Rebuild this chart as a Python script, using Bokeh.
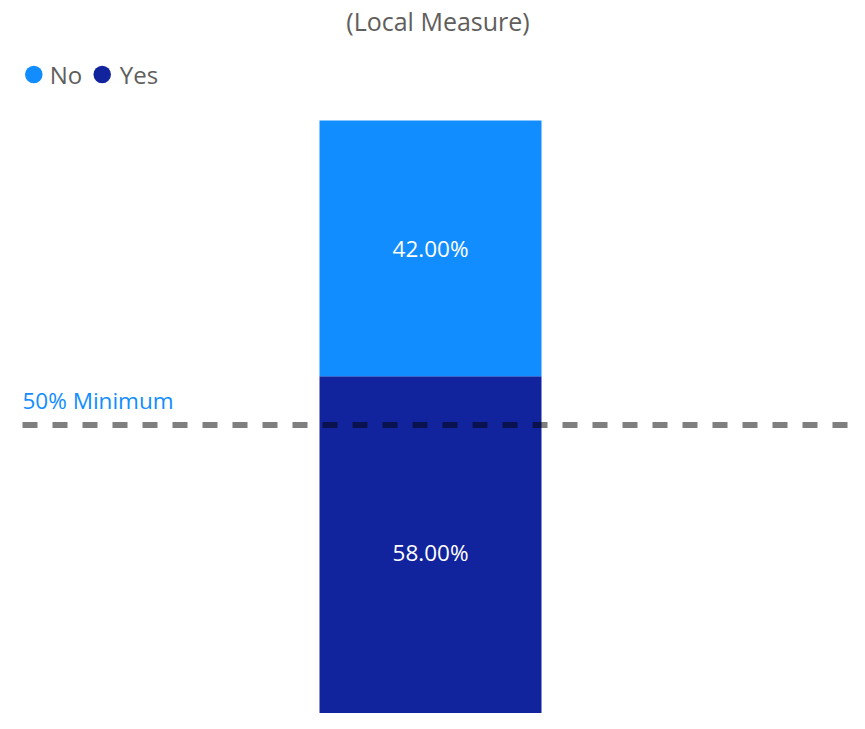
from bokeh.plotting import figure
from bokeh.models import Range1d, Label, ColumnDataSource
from bokeh.core.properties import value
from bokeh.embed import file_html
from bokeh.resources import INLINE

# ---- data ----
title_text = "(Local Measure)"
categories = ["Local Measure"]
series_names = ["Yes", "No"]
yes_values = [58.0]
no_values = [42.0]
yes_labels = ["58.00%"]
no_labels = ["42.00%"]
threshold_value = 50.0
threshold_label = "50% Minimum"
legend_order = ["No", "Yes"]

# ---- style / layout ----
colors = {"No": "#118DFF", "Yes": "#12239E"}
text_gray = "#605E5C"
FONT = "Open Sans"

W, H = 849, 713
PX_Y = 6.09          # pixels per percent
PX_X = 222.0         # pixels per category unit (bar width)
bar_center_px = 430.0
zero_px = 729.0      # pixel row (from top) of y = 0, just below the frame

# legend layout (pixels from the top-left corner)
legend_marker_px = [33.3, 101.7]
legend_text_px = [49.3, 119.3]
legend_row_px = 74.0

y_start = (zero_px - H) / PX_Y
y_end = zero_px / PX_Y
x_start = -bar_center_px / PX_X
x_end = (W - bar_center_px) / PX_X

def px_to_x(px):
    return (px - bar_center_px) / PX_X

def py_to_y(py):
    return (zero_px - py) / PX_Y

p = figure(width=W, height=H, x_range=Range1d(x_start, x_end),
           y_range=Range1d(y_start, y_end), output_backend="svg",
           toolbar_location=None, x_axis_type=None, y_axis_type=None,
           min_border=0)
p.outline_line_color = None
p.background_fill_color = "white"
p.border_fill_color = "white"

# stacked bar
xs = list(range(len(categories)))
src = ColumnDataSource(dict(x=xs, Yes=yes_values, No=no_values))
p.vbar_stack(series_names, x="x", width=1.0, source=src,
             color=[colors[s] for s in series_names], line_color=None)

# data labels (centered in each segment)
yes_mid = [v / 2 for v in yes_values]
no_mid = [y + n / 2 for y, n in zip(yes_values, no_values)]
p.text(x=xs + xs, y=yes_mid + no_mid, text=yes_labels + no_labels,
       text_align="center", text_baseline="middle", text_color="white",
       text_font=value(FONT), text_font_size="22.5px")

# threshold line
p.segment(x0=[px_to_x(22)], y0=[threshold_value], x1=[px_to_x(847)],
          y1=[threshold_value], line_color="black", line_alpha=0.5,
          line_width=6, line_dash="15 15", line_cap="butt")
p.text(x=[px_to_x(22)], y=[threshold_value], text=[threshold_label],
       text_align="left", text_baseline="middle", y_offset=-25,
       text_color=colors["No"], text_font=value(FONT), text_font_size="22.5px")

# title
p.add_layout(Label(x=437.5, y=H - 20.5, x_units="screen", y_units="screen",
                   text=title_text, text_align="center", text_baseline="middle",
                   text_font=FONT, text_font_size="25px", text_color=text_gray))

# legend (series markers + names)
leg_src = ColumnDataSource(dict(
    mx=[px_to_x(v) for v in legend_marker_px],
    tx=[px_to_x(v) for v in legend_text_px],
    y=[py_to_y(legend_row_px)] * len(legend_order),
    name=legend_order,
    color=[colors[n] for n in legend_order],
))
p.scatter(x="mx", y="y", marker="circle", size=17.5, fill_color="color",
          line_color=None, source=leg_src)
p.text(x="tx", y="y", text="name", text_align="left", text_baseline="middle",
       text_color=text_gray, text_font=value(FONT), text_font_size="24px",
       source=leg_src)

open("out.html", "w").write(file_html(p, INLINE))
